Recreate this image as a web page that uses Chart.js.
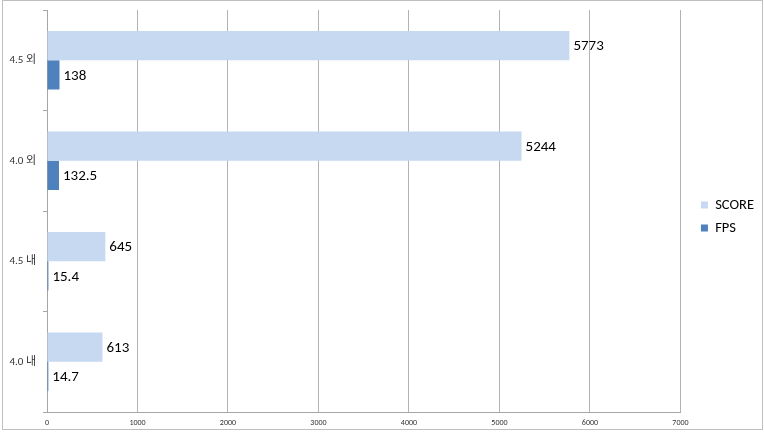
<!DOCTYPE html>
<html>
<head>
<meta charset="utf-8">
<script src="https://cdn.jsdelivr.net/npm/chart.js@4.4.1/dist/chart.umd.min.js"></script>
<style>
  html, body { margin: 0; padding: 0; background: #fff; }
  #wrap { width: 764px; height: 433px; }
</style>
</head>
<body>
<div id="wrap"><canvas id="chart" width="764" height="433"></canvas></div>
<script>
const categories = ['4.5 외', '4.0 외', '4.5 내', '4.0 내'];
const scoreValues = [5773, 5244, 645, 613];
const fpsValues = [138, 132.5, 15.4, 14.7];
const xTicks = [0, 1000, 2000, 3000, 4000, 5000, 6000, 7000];

const fontFamily = 'Calibri, Carlito, "Open Sans", "Noto Sans CJK KR", sans-serif';

// value labels drawn at the end of each bar
const barLabels = {
    id: 'barLabels',
    afterDatasetsDraw(chart) {
        const ctx = chart.ctx;
        ctx.save();
        ctx.font = '15px ' + fontFamily;
        ctx.fillStyle = '#000';
        ctx.textBaseline = 'middle';
        ctx.textAlign = 'left';
        chart.data.datasets.forEach((ds, i) => {
            const meta = chart.getDatasetMeta(i);
            meta.data.forEach((bar, j) => {
                ctx.fillText(String(ds.data[j]), bar.x + 4, bar.y + 1);
            });
        });
        ctx.restore();
    }
};

// thin frame round the whole chart
const frame = {
    id: 'frame',
    beforeDraw(chart) {
        const ctx = chart.ctx;
        ctx.save();
        ctx.strokeStyle = '#bfbfbf';
        ctx.lineWidth = 1;
        ctx.strokeRect(2.5, 0.5, chart.width - 4, chart.height - 4);
        ctx.restore();
    }
};

const noPad = scale => {
    scale.paddingTop = 0;
    scale.paddingBottom = 0;
};

new Chart(document.getElementById('chart'), {
    type: 'bar',
    data: {
        labels: categories,
        datasets: [
            {
                label: 'SCORE',
                data: scoreValues,
                backgroundColor: '#c6d9f1'
            },
            {
                label: 'FPS',
                data: fpsValues,
                backgroundColor: '#4f81bd'
            }
        ]
    },
    options: {
        responsive: false,
        animation: false,
        indexAxis: 'y',
        layout: {
            padding: 0
        },
        datasets: {
            bar: {
                categoryPercentage: 0.58,
                barPercentage: 1
            }
        },
        scales: {
            x: {
                min: 0,
                max: 7000,
                afterBuildTicks(scale) {
                    scale.ticks = xTicks.map(v => ({ value: v }));
                },
                afterFit(scale) {
                    scale.height = 21;
                },
                grid: {
                    color: '#b3b3b3',
                    drawTicks: false
                },
                border: { color: '#a6a6a6' },
                ticks: {
                    padding: 6,
                    color: '#333',
                    font: { size: 8, family: fontFamily },
                    callback: v => String(v)
                }
            },
            // empty strip above the plot
            gapTop: {
                axis: 'x',
                type: 'linear',
                position: 'top',
                afterFit(scale) {
                    scale.height = 10;
                    scale.paddingLeft = 0;
                    scale.paddingRight = 0;
                },
                grid: { display: false },
                border: { display: false },
                ticks: { display: false }
            },
            y: {
                afterFit(scale) {
                    scale.width = 47;
                    noPad(scale);
                },
                grid: {
                    drawOnChartArea: false,
                    drawTicks: true,
                    tickLength: 4,
                    color: '#a6a6a6'
                },
                border: { color: '#a6a6a6' },
                ticks: {
                    padding: 7,
                    color: '#333',
                    font: { size: 11, family: fontFamily }
                }
            },
            // empty spacer between the plot and the legend
            gap: {
                axis: 'y',
                type: 'category',
                position: 'right',
                afterFit(scale) {
                    scale.width = 12;
                    noPad(scale);
                },
                grid: { display: false },
                border: { display: false },
                ticks: { display: false }
            }
        },
        plugins: {
            legend: {
                position: 'right',
                align: 'center',
                labels: {
                    boxWidth: 7,
                    boxHeight: 7,
                    padding: 8.5,
                    color: '#000',
                    font: { size: 14.5, family: fontFamily }
                }
            },
            tooltip: { enabled: false }
        }
    },
    plugins: [barLabels, frame]
});
</script>
</body>
</html>
